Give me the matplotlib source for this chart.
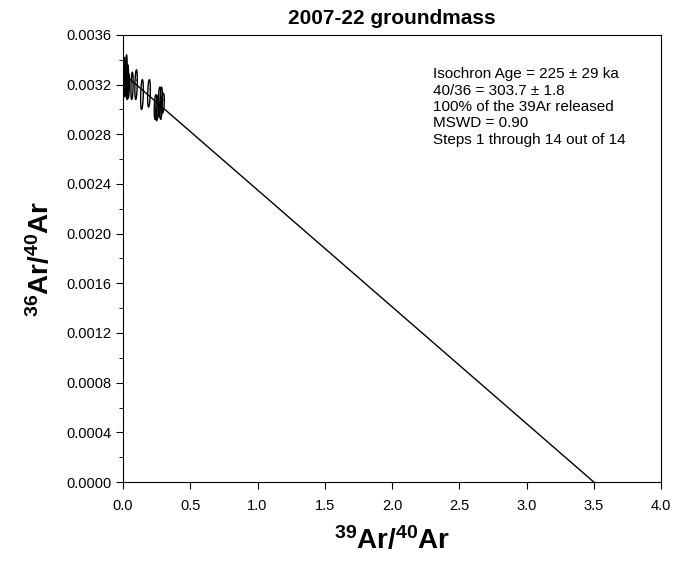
import numpy as np
import matplotlib.pyplot as plt
from matplotlib.ticker import MultipleLocator, FormatStrFormatter

plt.rcParams['font.family'] = ['Liberation Sans', 'DejaVu Sans']
plt.rcParams['mathtext.fontset'] = 'custom'
plt.rcParams['mathtext.rm'] = 'Liberation Sans'
plt.rcParams['mathtext.bf'] = 'Liberation Sans:bold'

# step data (39Ar/40Ar, 36Ar/40Ar) with 1-sigma errors
x39 = [0.007, 0.015, 0.024, 0.033, 0.040, 0.067, 0.097, 0.141, 0.193, 0.242, 0.253, 0.271, 0.283, 0.297]
y36 = [0.00330, 0.00324, 0.00328, 0.00322, 0.00319, 0.00319, 0.00320,
       0.00312, 0.00313, 0.00302, 0.00301, 0.00306, 0.00305, 0.00305]
sx = [0.006, 0.007, 0.007, 0.008, 0.008, 0.008, 0.009, 0.010, 0.010, 0.010, 0.010, 0.010, 0.010, 0.010]
sy = [0.00012, 0.00014, 0.00016, 0.00014, 0.00010, 0.00011, 0.00012,
      0.00012, 0.00011, 0.00010, 0.00010, 0.00012, 0.00013, 0.00008]
rho = 0.3

# isochron fit
trapped_ratio = 303.7
x_intercept = 3.5

info = ["Isochron Age = 225 \u00b1 29 ka",
        "40/36 = 303.7 \u00b1 1.8",
        "100% of the 39Ar released",
        "MSWD = 0.90",
        "Steps 1 through 14 out of 14"]

fig = plt.figure(figsize=(6.73, 5.66), dpi=100)
ax = fig.add_axes([0.1828, 0.1484, 0.7994, 0.7898])

t = np.linspace(0, 2 * np.pi, 100)
for cx, cy, ex, ey in zip(x39, y36, sx, sy):
    ex_x = cx + ex * np.cos(t)
    ex_y = cy + ey * (rho * np.cos(t) + np.sqrt(1 - rho**2) * np.sin(t))
    ax.plot(ex_x, ex_y, color='black', lw=1)

ax.plot([0, x_intercept], [1 / trapped_ratio, 0], color='black', lw=1)

ax.set_xlim(0, 4.0)
ax.set_ylim(0, 0.0036)
ax.xaxis.set_major_locator(MultipleLocator(0.5))
ax.yaxis.set_major_locator(MultipleLocator(0.0004))
ax.yaxis.set_minor_locator(MultipleLocator(0.0002))
ax.xaxis.set_major_formatter(FormatStrFormatter('%.1f'))
ax.yaxis.set_major_formatter(FormatStrFormatter('%.4f'))
ax.tick_params(which='major', direction='out', length=5, labelsize=10.5)
ax.tick_params(which='minor', direction='out', length=3)
ax.tick_params(axis='x', pad=7)

ax.set_xlabel(r'$\mathbf{^{39}Ar/^{40}Ar}$', fontsize=20, labelpad=10)
ax.set_ylabel(r'$\mathbf{^{36}Ar/^{40}Ar}$', fontsize=20, labelpad=8)
ax.set_title('2007-22 groundmass', fontsize=15, fontweight='bold', pad=8)

ax.text(0.576, 0.928, "\n".join(info), transform=ax.transAxes, fontsize=11,
        va='top', ha='left', linespacing=1.22)

fig.savefig('out.png', dpi=100)
